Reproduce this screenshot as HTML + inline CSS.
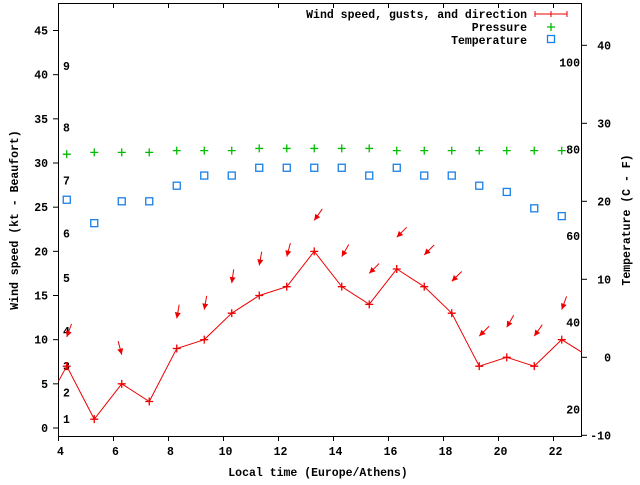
<!DOCTYPE html>
<html><head><meta charset="utf-8"><style>
body{margin:0;background:#fff}
svg text{font-family:"Liberation Mono",monospace;font-weight:bold;font-size:11.5px;fill:#000}
</style></head><body>
<svg id="c" width="640" height="480" xmlns="http://www.w3.org/2000/svg">
<rect x="58.5" y="3.5" width="523" height="433" fill="none" stroke="#000"/>
<g id="ax"></g>
<g id="marks"></g>
<text x="0" y="0" transform="translate(18,220) rotate(-90)" text-anchor="middle">Wind speed (kt - Beaufort)</text>
<text x="0" y="0" transform="translate(630,220) rotate(-90)" text-anchor="middle">Temperature (C - F)</text>
<text x="318" y="476" text-anchor="middle">Local time (Europe/Athens)</text>
<g>
<text x="527" y="18" text-anchor="end">Wind speed, gusts, and direction</text>
<path d="M535 14H567M535 11V17M567 11V17M548 14H554M551 11V17" stroke="#e00" fill="none"/>
<text x="527" y="31" text-anchor="end">Pressure</text>
<path d="M547 27H555M551 23V31" stroke="#0b0" stroke-width="1.3"/>
<text x="527" y="44" text-anchor="end">Temperature</text>
<rect x="547.5" y="35.5" width="7" height="7" fill="none" stroke="#1a7fe6" stroke-width="1.3"/>
</g>
</svg>
<script>
const hours=[4.3,5.3,6.3,7.3,8.3,9.3,10.3,11.3,12.3,13.3,14.3,15.3,16.3,17.3,18.3,19.3,20.3,21.3,22.3];
const windSpeed=[7,1,5,3,9,10,13,15,16,20,16,14,18,16,13,7,8,7,10];
const gusts=[10.3,null,8.3,null,12.4,13.4,16.4,18.4,19.4,23.5,19.4,17.5,21.6,19.6,16.6,10.4,11.4,10.4,13.4];
const windDir=[20,null,-15,null,10,10,8,10,15,35,30,45,45,45,45,45,30,35,20];
const pressure=[31,31.2,31.2,31.2,31.4,31.4,31.4,31.65,31.65,31.65,31.65,31.65,31.4,31.4,31.4,31.4,31.4,31.4,31.4];
const temperature=[20.2,17.2,20,20,22,23.3,23.3,24.3,24.3,24.3,24.3,23.3,24.3,23.3,23.3,22,21.2,19.1,18.1];
const xTicks=[4,6,8,10,12,14,16,18,20,22];
const yTicks=[0,5,10,15,20,25,30,35,40,45];
const tTicks=[-10,0,10,20,30,40];
const beaufortKt=[1,4,7,11,17,22,28,34,41];
const fahrenheit=[20,40,60,80,100];
const NS="http://www.w3.org/2000/svg";
const X=h=>58.5+(h-4)*27.5;
const Y=v=>428-8.833*v;
const T=c=>357.3-7.8*c;
function mk(tag,attrs,parent){const e=document.createElementNS(NS,tag);for(const k in attrs)e.setAttribute(k,attrs[k]);parent.appendChild(e);return e;}
const ax=document.getElementById('ax'),mg=document.getElementById('marks');
xTicks.forEach(t=>{const x=X(t);
 let l=mk('path',{d:`M${x} 436.5V441M${x} 3.5V8`,stroke:'#000'},ax);
 
 
 let s=mk('text',{x:x+2,y:455,'text-anchor':'middle'},ax);s.textContent=t;
 
 });
yTicks.forEach(t=>{const y=Y(t);
 let l=mk('path',{d:`M53 ${y}H58.5`,stroke:'#000'},ax);
 
 
 let s=mk('text',{x:48,y:y+4,'text-anchor':'end'},ax);s.textContent=t;
 
 });
tTicks.forEach(t=>{const y=T(t);
 let l=mk('path',{d:`M581.5 ${y}H587`,stroke:'#000'},ax);
 
 
 let s=mk('text',{x:611,y:y+4,'text-anchor':'end'},ax);s.textContent=t;
 
 });
beaufortKt.forEach((k,i)=>{let s=mk('text',{x:63,y:Y(k)+4},ax);s.textContent=i+1;
 
 });
fahrenheit.forEach(f=>{let s=mk('text',{x:580,y:T((f-32)*5/9)+4,'text-anchor':'end'},ax);s.textContent=f;
 
 });
let pts=hours.map((h,i)=>`${X(h)},${Y(windSpeed[i])}`);
let pl=mk('polyline',{points:`58.5,${Y(5.3)} `+pts.join(' ')+` 581.5,${Y(8.6)}`,fill:'none',stroke:'#e00'},mg);


hours.forEach((h,i)=>{const x=X(h),y=Y(windSpeed[i]);
 let p=mk('path',{d:`M${x-4} ${y}H${x+4}M${x} ${y-4}V${y+4}`,stroke:'#e00','stroke-width':1.3},mg);
 
 
 if(gusts[i]!=null){const tx=x,ty=Y(gusts[i]),a=windDir[i]*Math.PI/180,L=14;
  const sx=tx+L*Math.sin(a),sy=ty-L*Math.cos(a);
  const ux=(tx-sx)/L,uy=(ty-sy)/L,hx=tx-6*ux,hy=ty-6*uy;
  let g=mk('path',{d:`M${sx} ${sy}L${tx} ${ty}`,stroke:'#e00'},mg);
  
  
  let hd=mk('path',{d:`M${tx} ${ty}L${hx-3*uy} ${hy+3*ux}L${hx+3*uy} ${hy-3*ux}Z`,fill:'#e00'},mg);
  
  }
 let q=mk('path',{d:`M${x-4} ${Y(pressure[i])}H${x+4}M${x} ${Y(pressure[i])-4}V${Y(pressure[i])+4}`,stroke:'#0b0','stroke-width':1.3},mg);
 
 
 let r=mk('rect',{x:x-3.5,y:T(temperature[i])-3.5,width:7,height:7,fill:'none',stroke:'#1a7fe6','stroke-width':1.3},mg);
 
 
});
</script>
</body></html>
